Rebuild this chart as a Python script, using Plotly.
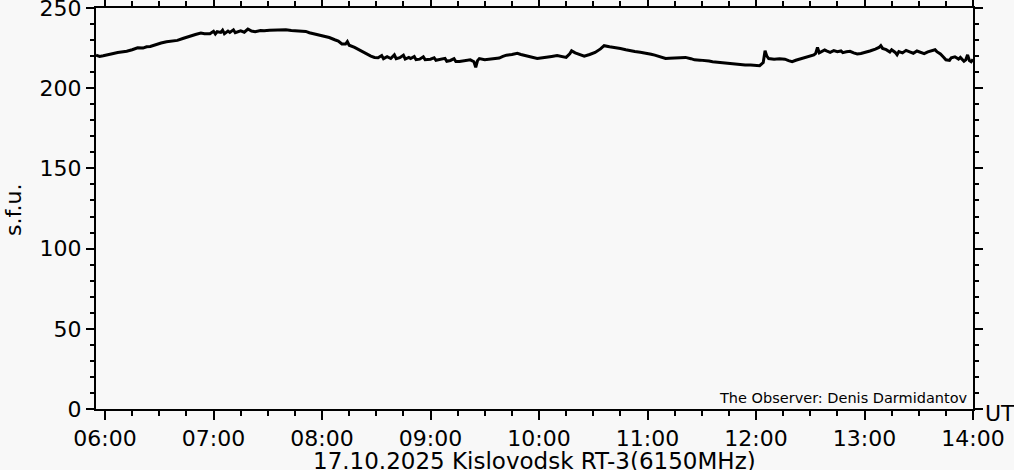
import plotly.graph_objects as go

day = "2025-10-17"

times = [
    "05:55", "05:57", "05:59", "06:01", "06:04", "06:07", "06:10", "06:12", "06:15", "06:18",
    "06:21", "06:23", "06:25", "06:27", "06:29", "06:31", "06:34", "06:37", "06:40", "06:43",
    "06:45", "06:47", "06:50", "06:53", "06:55", "06:58", "07:00", "07:01", "07:02", "07:04",
    "07:05", "07:06", "07:08", "07:09", "07:11", "07:12", "07:14", "07:15", "07:17", "07:19",
    "07:21", "07:23", "07:26", "07:28", "07:31", "07:34", "07:37", "07:40", "07:43", "07:45",
    "07:48", "07:51", "07:53", "07:56", "07:59", "08:02", "08:04", "08:07", "08:09", "08:11",
    "08:13", "08:14", "08:15", "08:18", "08:21", "08:24", "08:27", "08:29", "08:31", "08:33",
    "08:34", "08:36", "08:38", "08:40", "08:41", "08:43", "08:45", "08:46", "08:48", "08:49",
    "08:51", "08:52", "08:54", "08:56", "08:57", "09:00", "09:02", "09:03", "09:05", "09:08",
    "09:09", "09:11", "09:13", "09:14", "09:16", "09:19", "09:22", "09:24", "09:25", "09:26",
    "09:27", "09:30", "09:33", "09:36", "09:38", "09:40", "09:42", "09:45", "09:48", "09:50",
    "09:53", "09:56", "09:59", "10:02", "10:04", "10:07", "10:10", "10:13", "10:15", "10:17",
    "10:18", "10:20", "10:22", "10:25", "10:28", "10:31", "10:34", "10:36", "10:39", "10:42",
    "10:45", "10:48", "10:50", "10:53", "10:56", "10:59", "11:02", "11:04", "11:07", "11:10",
    "11:12", "11:15", "11:18", "11:21", "11:24", "11:26", "11:29", "11:32", "11:34", "11:36",
    "11:40", "11:43", "11:46", "11:49", "11:51", "11:54", "11:57", "12:00", "12:02", "12:03",
    "12:04", "12:05", "12:06", "12:07", "12:10", "12:13", "12:16", "12:18", "12:20", "12:22",
    "12:24", "12:27", "12:30", "12:32", "12:33", "12:34", "12:35", "12:36", "12:38", "12:39",
    "12:41", "12:43", "12:45", "12:47", "12:48", "12:50", "12:52", "12:54", "12:56", "12:58",
    "13:01", "13:03", "13:06", "13:08", "13:09", "13:10", "13:12", "13:14", "13:15", "13:17",
    "13:18", "13:19", "13:21", "13:23", "13:25", "13:27", "13:29", "13:31", "13:33", "13:35",
    "13:37", "13:39", "13:40", "13:42", "13:44", "13:45", "13:47", "13:48", "13:50", "13:52",
    "13:53", "13:55", "13:56", "13:57", "13:58", "13:59", "14:00",
]

flux = [
    220.6, 219.8, 220.2, 220.6, 221.5, 222.3, 222.6, 223.0, 224.0, 225.2,
    225.0, 225.8, 226.0, 226.8, 227.5, 228.2, 229.0, 229.2, 229.8, 231.0,
    231.8, 232.7, 233.5, 234.4, 234.0, 234.0, 235.5, 233.8, 235.2, 234.8,
    236.2, 234.0, 235.6, 234.8, 236.4, 234.6, 235.2, 235.8, 234.9, 236.9,
    235.6, 235.2, 236.0, 235.8, 236.2, 236.4, 236.6, 236.4, 236.0, 235.8,
    235.8, 235.4, 234.6, 233.8, 233.2, 232.3, 231.6, 230.2, 229.4, 227.6,
    227.5, 229.0, 226.8, 225.4, 223.5, 221.7, 220.0, 219.2, 219.0, 220.4,
    218.4, 219.6, 218.5, 220.8, 218.4, 219.0, 220.6, 218.2, 219.2, 218.5,
    219.8, 217.8, 218.1, 219.6, 217.8, 218.1, 219.0, 217.4, 217.7, 218.6,
    216.8, 217.3, 218.4, 216.6, 216.7, 217.0, 217.7, 216.5, 213.0, 217.2,
    218.5, 217.8, 218.1, 218.4, 218.8, 219.8, 220.6, 221.0, 221.7, 221.0,
    220.3, 219.2, 218.5, 219.0, 219.2, 219.8, 220.3, 219.9, 219.2, 221.5,
    223.3, 222.0, 221.0, 219.9, 221.0, 222.3, 224.5, 226.5, 225.8, 225.4,
    224.8, 224.0, 223.4, 222.9, 222.4, 221.9, 221.2, 220.6, 219.6, 218.5,
    218.6, 218.8, 219.2, 219.2, 218.4, 217.7, 217.5, 217.3, 216.9, 216.5,
    216.0, 215.7, 215.4, 215.0, 214.6, 214.5, 214.4, 214.2, 214.0, 215.0,
    216.0, 223.3, 220.0, 218.5, 218.1, 218.3, 218.1, 217.2, 216.5, 217.4,
    218.1, 219.0, 220.2, 220.8, 221.7, 225.4, 222.0, 222.5, 223.8, 223.3,
    222.4, 223.4, 222.7, 223.2, 222.2, 222.7, 223.0, 222.0, 221.3, 221.6,
    222.3, 223.2, 224.4, 225.4, 226.5, 224.8, 224.0, 222.6, 224.0, 222.3,
    220.8, 222.8, 222.0, 223.6, 222.7, 221.8, 223.2, 222.3, 221.6, 222.7,
    223.4, 224.0, 222.8, 221.3, 219.0, 217.7, 217.3, 219.0, 219.6, 218.2,
    219.2, 216.8, 217.7, 220.8, 217.3, 216.5, 218.0,
]

bg = "#f8f8f8"
font = "DejaVu Sans"

fig = go.Figure()
fig.add_trace(go.Scatter(
    x=[f"{day} {t}" for t in times], y=flux, mode="lines",
    line=dict(color="black", width=3), showlegend=False,
))

axis_common = dict(
    showline=True, linecolor="black", linewidth=2, mirror="ticks",
    ticks="outside", tickcolor="black", tickwidth=2,
    showgrid=False, zeroline=False, automargin=False,
    ticklabeloverflow="allow",
    tickfont=dict(family=font, size=22, color="black"),
)

fig.update_xaxes(
    range=[f"{day} 05:55", f"{day} 14:00"],
    tick0=f"{day} 06:00", dtick=3600000, tickformat="%H:%M", ticklen=9,
    minor=dict(dtick=900000, tick0=f"{day} 06:00", ticks="outside", ticklen=5,
               tickwidth=2, tickcolor="black"),
    **axis_common,
)
fig.update_yaxes(
    range=[0, 250], dtick=50, ticklen=8,
    minor=dict(dtick=10, ticks="outside", ticklen=4, tickwidth=2, tickcolor="black"),
    **axis_common,
)

# plot area is 877 x 401 px, left edge at 96 px, bottom at 409 px
def px(x):
    return (x - 96) / 877

def py(y):
    return (409 - y) / 401

fig.add_annotation(x=px(14), y=py(210), xref="paper", yref="paper",
                   xanchor="center", yanchor="middle",
                   text="s.f.u.", textangle=-90, showarrow=False,
                   font=dict(family=font, size=22, color="black"))
fig.add_annotation(x=px(1000), y=py(413), xref="paper", yref="paper",
                   xanchor="center", yanchor="middle",
                   text="UT", showarrow=False,
                   font=dict(family=font, size=22, color="black"))
fig.add_annotation(x=px(534), y=py(461), xref="paper", yref="paper",
                   xanchor="center", yanchor="middle",
                   text="17.10.2025 Kislovodsk RT-3(6150MHz)", showarrow=False,
                   font=dict(family=font, size=23, color="black"))
fig.add_annotation(x=px(970), y=py(398), xref="paper", yref="paper",
                   xanchor="right", yanchor="middle",
                   text="The Observer: Denis Darmidantov",
                   showarrow=False, font=dict(family=font, size=14.5, color="black"))

fig.update_layout(
    width=1014, height=470,
    margin=dict(l=96, r=41, t=8, b=61),
    paper_bgcolor=bg, plot_bgcolor=bg,
)

# drop the default page margin so the figure sits at the window's corner
fig.write_html("out.html", config={"displayModeBar": False},
               post_script="document.body.style.margin='0';")
